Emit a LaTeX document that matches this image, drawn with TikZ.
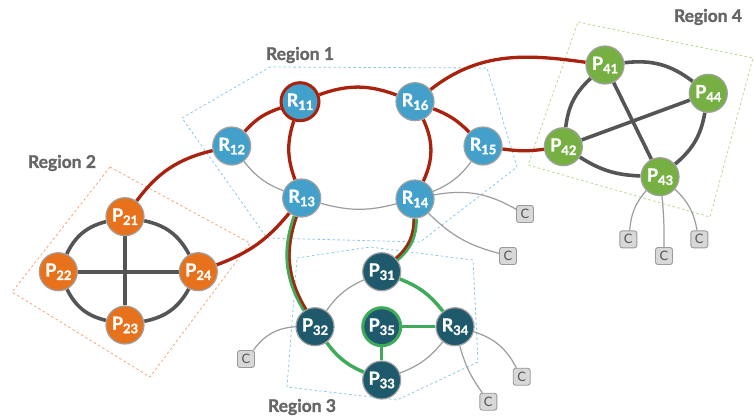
\documentclass[tikz,border=0pt]{standalone}
\usepackage{fontspec}
\setmainfont{Lato}
\newfontfamily\heavyfont[BoldFeatures={FakeBold=1.2}]{Lato}
\usetikzlibrary{backgrounds}
\definecolor{nblue}{HTML}{42A0CB}
\definecolor{norange}{HTML}{E8711C}
\definecolor{nteal}{HTML}{1E5A6B}
\definecolor{ngreen}{HTML}{76B043}
\definecolor{ered}{HTML}{A8220E}
\definecolor{egreen}{HTML}{3FAA5A}
\definecolor{edark}{HTML}{555555}
\definecolor{ethin}{HTML}{9C9C9C}
\definecolor{ndborder}{HTML}{A0A0A0}
\definecolor{cfill}{HTML}{D8D8D8}
\definecolor{cborder}{HTML}{9A9A9A}
\definecolor{cgray}{HTML}{555555}
\definecolor{lblgray}{HTML}{666666}
\definecolor{rblue}{HTML}{8CC8E6}
\definecolor{rorange}{HTML}{F4A67A}
\definecolor{rgreen}{HTML}{B8DA8E}
\newcommand\nodelab[2]{#1\raisebox{-3.5pt}{\fontsize{13}{13}\selectfont #2}}
\tikzset{
  nd/.style={circle, minimum size=38pt, inner sep=0pt, draw=ndborder, line width=1.2pt, text=white, font=\heavyfont\fontsize{18}{18}\selectfont\bfseries},
  rnode/.style={nd, fill=nblue},
  onode/.style={nd, fill=norange},
  tnode/.style={nd, fill=nteal},
  gnode/.style={nd, fill=ngreen},
  cbox/.style={rectangle, rounded corners=2.5pt, minimum size=17pt, inner sep=0pt, fill=cfill, draw=cborder, line width=0.9pt, font=\fontsize{13}{13}\selectfont, text=cgray},
  redge/.style={draw=ered, line width=3.3pt},
  gedge/.style={draw=egreen, line width=3.5pt},
  dedge/.style={draw=edark, line width=3.6pt},
  tedge/.style={draw=ethin, line width=1.2pt},
  regbox/.style={line width=0.8pt, dash pattern=on 2.5pt off 2.5pt},
  rlabel/.style={font=\heavyfont\fontsize{17.5}{17.5}\selectfont\bfseries, text=lblgray, inner sep=0pt}
}
\begin{document}
\begin{tikzpicture}[x=1pt,y=1pt]
\useasboundingbox (0,0) rectangle (754,-418);
% labels
\node[rlabel] (l1) at (300,-55) {Region 1};
\node[rlabel] (l2) at (62,-163) {Region 2};
\node[rlabel] (l3) at (302,-407) {Region 3};
\node[rlabel] (l4) at (708,-17) {Region 4};
% nodes
\node[rnode, draw=ered, line width=3pt] (R11) at (300,-101.7) {\nodelab{R}{11}};
\node[rnode] (R16) at (415,-101.7) {\nodelab{R}{16}};
\node[rnode] (R12) at (231.7,-146) {\nodelab{R}{12}};
\node[rnode] (R15) at (483,-146) {\nodelab{R}{15}};
\node[rnode] (R13) at (301.7,-198) {\nodelab{R}{13}};
\node[rnode] (R14) at (415,-199) {\nodelab{R}{14}};
\node[onode] (P21) at (125,-216.7) {\nodelab{P}{21}};
\node[onode] (P22) at (58.3,-271.7) {\nodelab{P}{22}};
\node[onode] (P24) at (198.3,-271.7) {\nodelab{P}{24}};
\node[onode] (P23) at (125,-325) {\nodelab{P}{23}};
\node[tnode] (P31) at (381.7,-271.7) {\nodelab{P}{31}};
\node[tnode] (P32) at (315,-326.7) {\nodelab{P}{32}};
\node[tnode, draw=egreen, line width=3pt] (P35) at (381.7,-326.7) {\nodelab{P}{35}};
\node[tnode] (R34) at (455,-326.7) {\nodelab{R}{34}};
\node[tnode] (P33) at (381.7,-380) {\nodelab{P}{33}};
\node[gnode] (P41) at (605,-65) {\nodelab{P}{41}};
\node[gnode] (P44) at (708.3,-93.3) {\nodelab{P}{44}};
\node[gnode] (P42) at (563.3,-146.7) {\nodelab{P}{42}};
\node[gnode] (P43) at (660,-176.7) {\nodelab{P}{43}};
\node[cbox] (C1) at (525,-214) {C};
\node[cbox] (C2) at (508,-256) {C};
\node[cbox] (C3) at (246,-359) {C};
\node[cbox] (C4) at (521.7,-376.7) {C};
\node[cbox] (C5) at (488.3,-401.7) {C};
\node[cbox] (C6) at (628.3,-239.3) {C};
\node[cbox] (C7) at (664,-256) {C};
\node[cbox] (C8) at (699.3,-239.3) {C};
\begin{scope}[on background layer]
% region outlines
\draw[regbox, draw=rblue] (182,-118) -- (270,-67) -- (487,-68) -- (517,-167) -- (420,-242) -- (267,-238) -- cycle;
\draw[regbox, draw=rorange] (110,-167) -- (250,-243) -- (150,-377) -- (12,-292) -- cycle;
\draw[regbox, draw=rblue] (297,-258) -- (370,-247) -- (473,-260) -- (478,-362) -- (397,-400) -- (287,-387) -- cycle;
\draw[regbox, draw=rgreen] (578,-22) -- (753,-58) -- (710,-217) -- (528,-165) -- cycle;
% thin gray edges
\draw[tedge] (R12) to[bend right=15] (R13);
\draw[tedge] (R13) to[bend right=15] (R14);
\draw[tedge] (R14) to[bend right=15] (R15);
\draw[tedge] (R14) to[bend left=20] (C1);
\draw[tedge] (R14) to[bend right=15] (C2);
\draw[tedge] (P31) to[bend right=15] (P32);
\draw[tedge] (P33) to[bend right=15] (R34);
\draw[tedge] (P32) to[bend right=25] (C3);
\draw[tedge] (R34) to[bend left=22] (C4);
\draw[tedge] (R34) to[bend right=10] (C5);
\draw[tedge] (P43) to[bend right=18] (C6);
\draw[tedge] (P43) to[bend left=3] (C7);
\draw[tedge] (P43) to[bend left=18] (C8);
% region 2 mesh
\draw[dedge] (P21) to[bend right=25] (P22);
\draw[dedge] (P22) to[bend right=25] (P23);
\draw[dedge] (P23) to[bend right=25] (P24);
\draw[dedge] (P24) to[bend right=25] (P21);
\draw[dedge] (P21) -- (P23);
\draw[dedge] (P22) -- (P24);
% region 4 mesh
\draw[dedge] (P41) to[bend left=22] (P44);
\draw[dedge] (P44) to[bend left=20] (P43);
\draw[dedge] (P43) to[bend left=15] (P42);
\draw[dedge] (P42) to[bend left=20] (P41);
\draw[dedge] (P41) -- (P43);
\draw[dedge] (P42) -- (P44);
% green edges
\draw[gedge] (P31) to[bend left=15] (R34);
\draw[gedge] (P32) to[bend right=15] (P33);
\draw[gedge] (P35) -- (R34);
\draw[gedge] (P35) -- (P33);
% red + green double links
\draw[gedge, line width=5.5pt] (R13) to[bend right=25] (P32);
\draw[redge, line width=2.4pt, transform canvas={xshift=1.4pt}] (R13) to[bend right=25] (P32);
\draw[gedge, line width=5.5pt] (R14) to[bend left=25] (P31);
\draw[redge, line width=2.4pt, transform canvas={xshift=-1.4pt}] (R14) to[bend left=25] (P31);
% red edges
\draw[redge] (R12) to[bend left=15] (R11);
\draw[redge] (R11) to[bend left=20] (R16);
\draw[redge] (R16) to[bend left=12] (R15);
\draw[redge] (R11) to[bend right=19] (R13);
\draw[redge] (R16) to[bend left=25] (R14);
\draw[redge] (R16) to[out=38, in=172] (P41);
\draw[redge] (R15) to[bend right=8] (P42);
\draw[redge] (R12) to[bend right=20] (P21);
\draw[redge] (R13) to[bend left=15] (P24);
\end{scope}
\end{tikzpicture}
\end{document}
